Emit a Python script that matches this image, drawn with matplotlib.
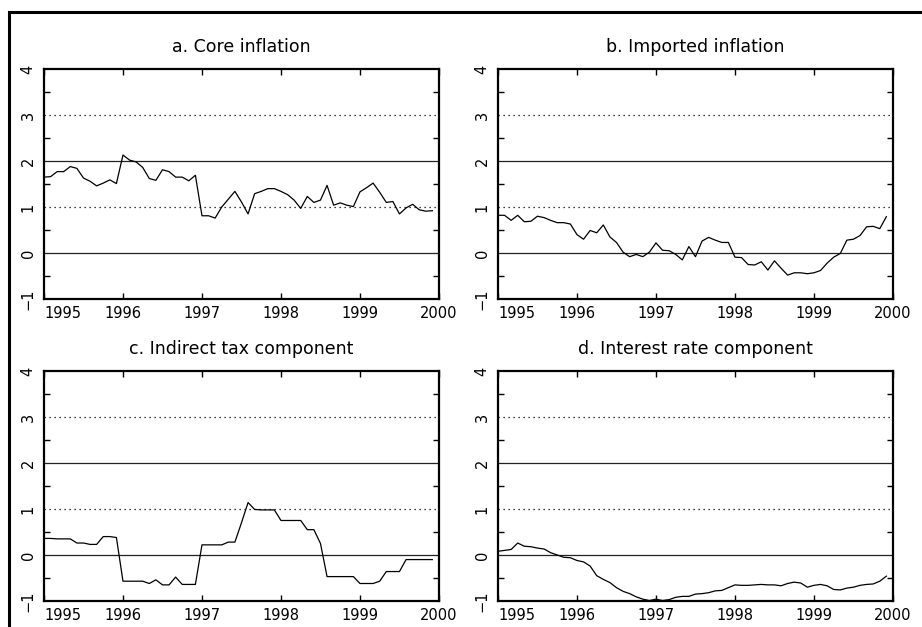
import matplotlib.pyplot as plt
from matplotlib.patches import Rectangle
from matplotlib.ticker import MultipleLocator

# monthly observations, Jan 1995 - Dec 1999
core = [1.65, 1.66, 1.77, 1.77, 1.88, 1.84, 1.63, 1.56, 1.46, 1.52, 1.59, 1.51,
        2.13, 2.02, 1.98, 1.86, 1.62, 1.58, 1.81, 1.77, 1.65, 1.65, 1.57, 1.69,
        0.81, 0.81, 0.76, 1.00, 1.17, 1.34, 1.11, 0.85, 1.29, 1.34, 1.40, 1.40,
        1.34, 1.27, 1.15, 0.97, 1.23, 1.10, 1.15, 1.47, 1.04, 1.09, 1.04, 1.01,
        1.33, 1.42, 1.52, 1.32, 1.10, 1.12, 0.85, 0.98, 1.06, 0.94, 0.91, 0.92]

imported = [0.82, 0.82, 0.71, 0.82, 0.68, 0.69, 0.80, 0.77, 0.71, 0.66, 0.66, 0.63,
            0.40, 0.30, 0.49, 0.44, 0.61, 0.35, 0.23, 0.02, -0.08, -0.03, -0.08, 0.02,
            0.22, 0.06, 0.05, -0.03, -0.15, 0.14, -0.08, 0.26, 0.34, 0.28, 0.23, 0.23,
            -0.09, -0.10, -0.25, -0.26, -0.19, -0.37, -0.17, -0.33, -0.48, -0.43, -0.43, -0.45,
            -0.43, -0.38, -0.22, -0.09, -0.01, 0.28, 0.30, 0.38, 0.57, 0.58, 0.53, 0.79]

indirect_tax = [0.36, 0.36, 0.35, 0.35, 0.35, 0.26, 0.26, 0.23, 0.23, 0.40, 0.40, 0.38,
                -0.57, -0.57, -0.57, -0.57, -0.62, -0.54, -0.65, -0.65, -0.48, -0.64, -0.64, -0.64,
                0.22, 0.22, 0.22, 0.22, 0.28, 0.28, 0.70, 1.14, 0.99, 0.98, 0.98, 0.98,
                0.75, 0.75, 0.75, 0.75, 0.55, 0.55, 0.25, -0.47, -0.47, -0.47, -0.47, -0.47,
                -0.62, -0.62, -0.62, -0.57, -0.36, -0.36, -0.36, -0.10, -0.10, -0.10, -0.10, -0.10]

interest_rate = [0.08, 0.10, 0.12, 0.26, 0.19, 0.18, 0.15, 0.13, 0.05, 0.00, -0.05, -0.06,
                 -0.12, -0.15, -0.24, -0.45, -0.53, -0.60, -0.71, -0.79, -0.84, -0.91, -0.96, -0.99,
                 -0.96, -0.99, -0.97, -0.92, -0.90, -0.90, -0.85, -0.84, -0.82, -0.78, -0.77, -0.71,
                 -0.65, -0.66, -0.66, -0.65, -0.64, -0.65, -0.65, -0.67, -0.62, -0.59, -0.61, -0.70,
                 -0.66, -0.64, -0.67, -0.75, -0.76, -0.72, -0.70, -0.66, -0.64, -0.63, -0.57, -0.46]

titles = ['a. Core inflation', 'b. Imported inflation',
          'c. Indirect tax component', 'd. Interest rate component']
years = [1995, 1996, 1997, 1998, 1999, 2000]
dates = [1995 + i / 12 for i in range(len(core))]

fig = plt.figure(figsize=(9.22, 6.27), dpi=100)

# frame round the whole page
fig.patches.append(Rectangle((0.0098, -0.2), 1.2, 1.181, transform=fig.transFigure,
                             fill=False, lw=2.2, edgecolor='black'))

positions = [[0.0477, 0.5231, 0.4284, 0.3668], [0.5401, 0.5231, 0.4284, 0.3668],
             [0.0477, 0.0415, 0.4284, 0.3668], [0.5401, 0.0415, 0.4284, 0.3668]]
series = [core, imported, indirect_tax, interest_rate]

for pos, title, values in zip(positions, titles, series):
    ax = fig.add_axes(pos)
    ax.axhline(0, color='#222222', lw=0.9)
    ax.axhline(2, color='#222222', lw=0.9)
    ax.axhline(1, color='black', lw=0.9, linestyle=(0, (1, 3)))
    ax.axhline(3, color='black', lw=0.9, linestyle=(0, (1, 3)))
    ax.plot(dates, values, color='black', lw=0.9)

    ax.set_xlim(1995, 2000)
    ax.set_ylim(-1, 4)
    ax.set_xticks(years)
    ax.set_xticklabels([str(y) for y in years])
    ax.get_xticklabels()[0].set_horizontalalignment('left')
    ax.set_yticks([-1, 0, 1, 2, 3, 4])
    ax.set_yticklabels(['\u22121', '0', '1', '2', '3', '4'], rotation=90, va='center')
    ax.yaxis.set_minor_locator(MultipleLocator(0.5))

    ax.tick_params(axis='x', which='major', direction='in', top=True, length=4,
                   width=1, labelsize=10.5, pad=5)
    ax.tick_params(axis='y', which='major', direction='in', right=True, length=0,
                   labelsize=10.5, pad=6)
    ax.tick_params(axis='y', which='minor', direction='in', right=True, length=4, width=1)
    for s in ax.spines.values():
        s.set_linewidth(1.6)

    ax.set_title(title, fontsize=12.5, pad=12)

plt.savefig('out.png', dpi=100)
